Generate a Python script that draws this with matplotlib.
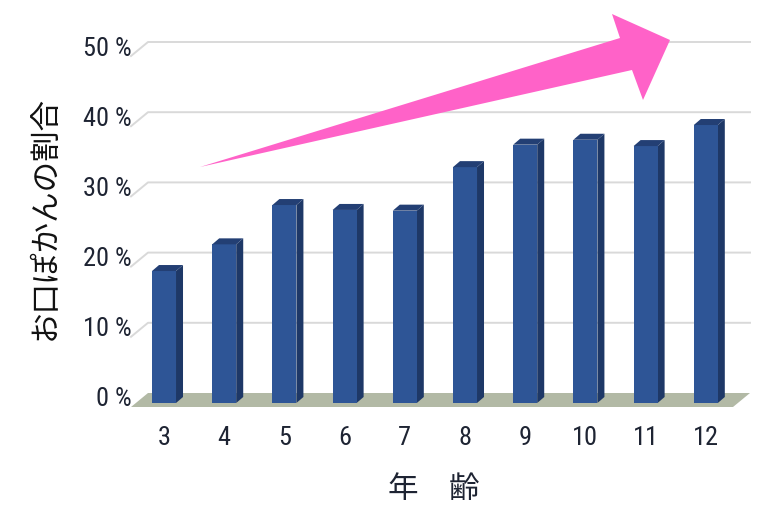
import numpy as np
import matplotlib.pyplot as plt
from matplotlib.patches import Polygon
from matplotlib.transforms import ScaledTranslation

ages = ['3', '4', '5', '6', '7', '8', '9', '10', '11', '12']
ratio = [18.8, 22.6, 28.2, 27.5, 27.4, 33.6, 36.8, 37.5, 36.6, 39.6]
yticks = [0, 10, 20, 30, 40, 50]
ytick_labels = ['%d %%' % v for v in yticks]
ylabel = 'お口ぽかんの割合'
xlabel = '年　齢'

W, H = 780, 524
num_font = ['Roboto Condensed', 'Liberation Sans Narrow', 'Liberation Sans']
jp_font = ['Noto Sans CJK JP', 'DejaVu Sans']
text_col = '#1e2433'

fig = plt.figure(figsize=(W / 100, H / 100), dpi=100)
# back wall of the 3d chart
ax = fig.add_axes([148 / W, (H - 393) / H, (750 - 148) / W, (393 - 42) / H])
x = np.arange(len(ages))
ax.set_xlim(-0.266, 9.734)
ax.set_ylim(0, 50)
for s in ax.spines.values():
    s.set_visible(False)

# pixel -> data unit helpers
ux = 602 / 10.0
uy = 351 / 50.0
fdx, fdy = -17 / ux, -14 / uy      # floor depth (front relative to back)
base = -10 / uy                    # bar front base
bdx, bdy = 7 / ux, 6 / uy          # bar depth
w = 24 / ux

x0, x1 = ax.get_xlim()

# gridlines with slanted start
for v in yticks[1:]:
    ax.plot([x0 + fdx, x0, x1], [v + fdy, v, v], color='#d9d9d9', lw=1.4,
            clip_on=False, zorder=1)

# floor
floor = Polygon([(x0, 0), (x1, 0), (x1 + fdx, fdy), (x0 + fdx, fdy)],
                closed=True, facecolor='#b2b9a5', edgecolor='none',
                clip_on=False, zorder=2)
ax.add_patch(floor)

# bars
ax.bar(x, ratio, width=w, bottom=base, color='#2e5596', zorder=4, clip_on=False)
for xi, h in zip(x, ratio):
    top = base + h
    side = Polygon([(xi + w / 2, base), (xi + w / 2 + bdx, base + bdy),
                    (xi + w / 2 + bdx, top + bdy), (xi + w / 2, top)],
                   closed=True, facecolor='#1e3867', edgecolor='none',
                   clip_on=False, zorder=3)
    cap = Polygon([(xi - w / 2, top), (xi - w / 2 + bdx, top + bdy),
                   (xi + w / 2 + bdx, top + bdy), (xi + w / 2, top)],
                  closed=True, facecolor='#233f74', edgecolor='none',
                  clip_on=False, zorder=4)
    ax.add_patch(side)
    ax.add_patch(cap)

# ticks
ax.set_yticks(yticks, ytick_labels)
ax.set_xticks(x, ages)
ax.tick_params(axis='y', length=0, pad=11.5, labelsize=19, labelcolor=text_col)
ax.tick_params(axis='x', length=0, pad=24, labelsize=19, labelcolor=text_col)
shift = ScaledTranslation(0, -4 / 100, fig.dpi_scale_trans)
for lab in ax.get_yticklabels():
    lab.set_family(num_font)
    lab.set_transform(lab.get_transform() + shift)
for lab in ax.get_xticklabels():
    lab.set_family(num_font)

# axis titles
fig.text(45 / W, 1 - 218 / H, ylabel, rotation=90, fontsize=22, ha='center',
         va='center', family=jp_font, color='#111111')
fig.text(433.5 / W, 1 - 490 / H, xlabel, fontsize=22, ha='center',
         va='center', family=jp_font, color=text_col)

# pink trend arrow
pts = [(200, 167), (620, 38), (612, 14), (670, 40), (643, 100), (632, 70)]
arrow = Polygon([(px / W, 1 - py / H) for px, py in pts], closed=True,
                facecolor='#ff62c8', edgecolor='none',
                transform=fig.transFigure, clip_on=False, zorder=6)
ax.add_patch(arrow)

fig.savefig('out.png', dpi=100)
